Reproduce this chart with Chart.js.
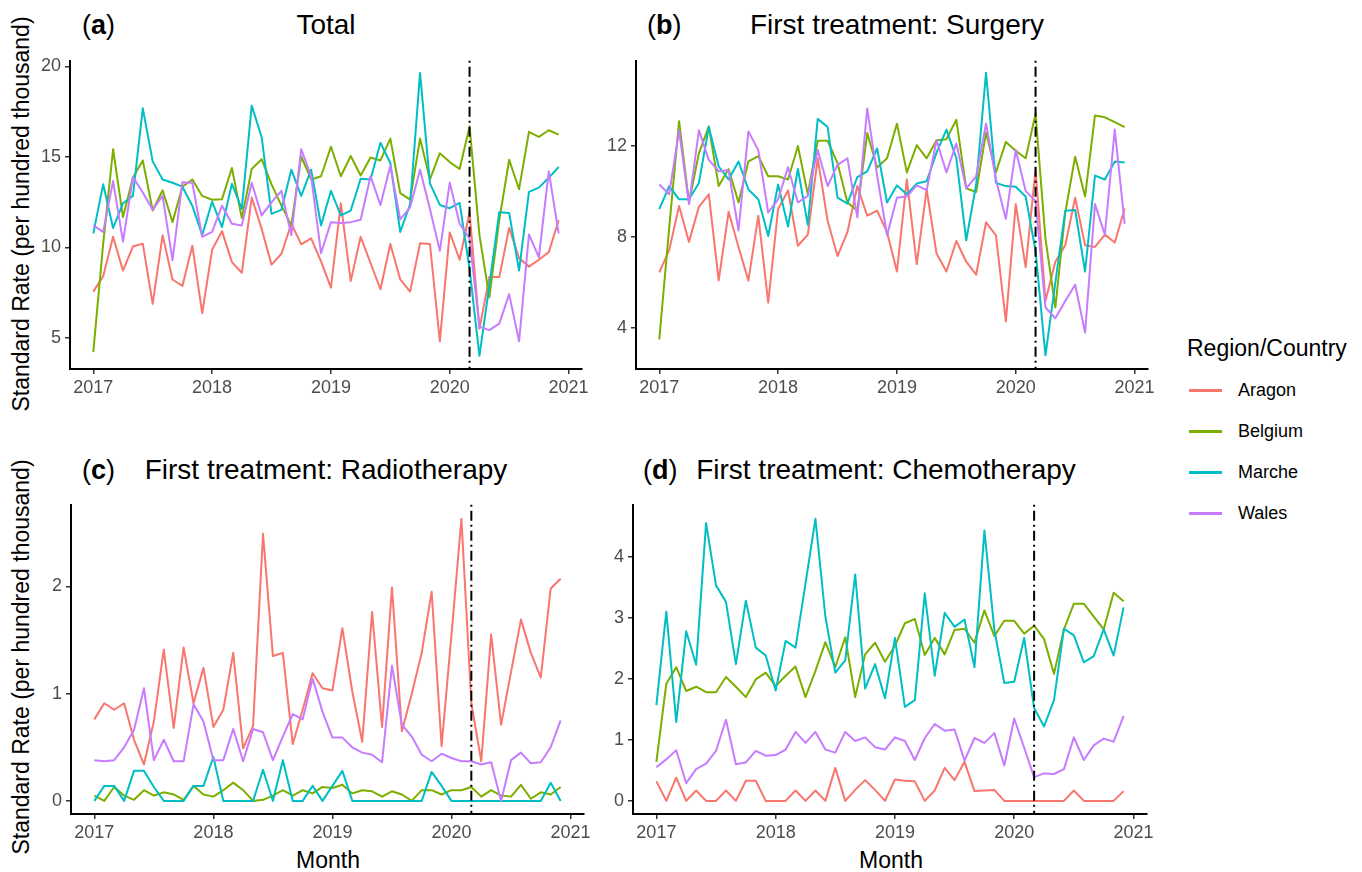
<!DOCTYPE html>
<html lang="en">
<head>
<meta charset="UTF-8">
<title>Standard rate by region/country</title>
<script src="https://cdn.jsdelivr.net/npm/chart.js"></script>
<style>
  body { margin: 0; background: #fff; font-family: 'Liberation Sans', Arial, sans-serif; color: #000; }
  #page { position: relative; width: 1362px; height: 872px; overflow: hidden; }
  canvas { position: absolute; }
  .tag { position: absolute; font-size: 27px; transform: translateY(-50%); white-space: nowrap; }
  .tag b { font-weight: bold; }
  .title { position: absolute; font-size: 28px; transform: translate(-50%, -50%); white-space: nowrap; }
  .ylab { position: absolute; font-size: 23px; transform: translate(-50%, -50%) rotate(-90deg); white-space: nowrap; }
  .xlab { position: absolute; font-size: 23px; transform: translate(-50%, -50%); white-space: nowrap; }
  .leg-title { position: absolute; left: 1187px; top: 348px; font-size: 23px; transform: translateY(-50%); white-space: nowrap; }
  .leg-item { position: absolute; left: 1189px; height: 0; }
  .leg-item span.sw { position: absolute; left: 0; top: -1.5px; width: 33px; height: 3px; }
  .leg-item span.tx { position: absolute; left: 49px; top: 0; font-size: 18px; transform: translateY(-50%); white-space: nowrap; }
</style>
</head>
<body>
<div id="page">
  <div class="tag" style="left:82px; top:25px">(<b>a</b>)</div>
  <div class="title" style="left:326px; top:25px">Total</div>
  <div class="tag" style="left:647px; top:25px">(<b>b</b>)</div>
  <div class="title" style="left:897px; top:25px">First treatment: Surgery</div>
  <div class="tag" style="left:82px; top:470px">(<b>c</b>)</div>
  <div class="title" style="left:326px; top:470px">First treatment: Radiotherapy</div>
  <div class="tag" style="left:643px; top:470px">(<b>d</b>)</div>
  <div class="title" style="left:886px; top:470px">First treatment: Chemotherapy</div>

  <div class="ylab" style="left:21px; top:214px">Standard Rate (per hundred thousand)</div>
  <div class="ylab" style="left:21px; top:657px">Standard Rate (per hundred thousand)</div>
  <div class="xlab" style="left:328px; top:860px">Month</div>
  <div class="xlab" style="left:891px; top:860px">Month</div>

  <canvas id="chartA" width="576" height="355" style="left:30px; top:46px"></canvas>
  <canvas id="chartB" width="576" height="355" style="left:596px; top:46px"></canvas>
  <canvas id="chartC" width="577" height="356" style="left:31px; top:490px"></canvas>
  <canvas id="chartD" width="578" height="356" style="left:593px; top:490px"></canvas>

  <div id="legend"></div>
</div>

<script>
  const months = [
    '2017-01','2017-02','2017-03','2017-04','2017-05','2017-06','2017-07','2017-08','2017-09','2017-10','2017-11','2017-12',
    '2018-01','2018-02','2018-03','2018-04','2018-05','2018-06','2018-07','2018-08','2018-09','2018-10','2018-11','2018-12',
    '2019-01','2019-02','2019-03','2019-04','2019-05','2019-06','2019-07','2019-08','2019-09','2019-10','2019-11','2019-12',
    '2020-01','2020-02','2020-03','2020-04','2020-05','2020-06','2020-07','2020-08','2020-09','2020-10','2020-11','2020-12'
  ];
  const yearTicks = [2017, 2018, 2019, 2020, 2021];
  const interventionMonth = '2020-03';

  const regions = ['Aragon', 'Belgium', 'Marche', 'Wales'];
  const regionColors = ['#F8766D', '#7CAE00', '#00BFC4', '#C77CFF'];

  // (a) Total
  const totalAragon = [7.55, 8.4, 10.58, 8.71, 10.04, 10.2, 6.87, 10.67, 8.22, 7.86, 10.09, 6.36,
    9.86, 10.89, 9.18, 8.59, 12.75, 11.03, 9.04, 9.64, 11.3, 10.16, 10.49, 9.22,
    7.77, 12.43, 8.13, 10.58, 9.13, 7.68, 10.18, 8.22, 7.55, 10.22, 10.18, 4.8,
    10.82, 9.31, 11.94, 5.5, 8.35, 8.35, 11.07, 9.4, 8.93, 9.31, 9.73, 11.49];
  const totalBelgium = [4.2, 10.2, 15.42, 11.67, 13.84, 14.8, 12.03, 13.15, 11.39, 13.35, 13.75, 12.84,
    12.63, 12.66, 14.38, 11.61, 14.33, 14.87, 13.48, 12.3, 11.21, 15.02, 13.75, 13.93,
    15.56, 13.93, 15.05, 13.97, 14.96, 14.8, 16.01, 12.99, 12.63, 16.01, 13.75, 15.2,
    14.71, 14.33, 16.68, 10.67, 7.23, 11.5, 14.84, 13.21, 16.38, 16.1, 16.47, 16.23];
  const totalMarche = [10.76, 13.48, 11.07, 12.43, 12.84, 17.68, 14.75, 13.75, 13.57, 13.35, 12.3, 10.67,
    12.52, 11.12, 13.51, 12.12, 17.83, 16.1, 11.85, 12.07, 14.29, 12.84, 14.29, 11.21,
    13.12, 11.76, 12.03, 13.79, 13.75, 15.78, 14.66, 10.85, 12.39, 19.64, 13.53, 12.34,
    12.16, 12.45, 8.8, 4.0, 7.9, 11.94, 11.9, 8.71, 13.06, 13.3, 13.84, 14.44];
  const totalWales = [11.21, 10.85, 13.66, 10.31, 13.88, 13.03, 12.08, 12.84, 9.28, 13.6, 13.57, 10.58,
    10.85, 12.3, 11.3, 11.21, 13.57, 11.76, 12.48, 13.12, 10.67, 15.42, 13.93, 9.67,
    11.39, 11.34, 11.39, 11.52, 13.93, 12.34, 14.51, 11.54, 12.21, 14.29, 12.12, 9.8,
    13.57, 11.3, 10.49, 5.6, 5.42, 5.78, 7.41, 4.8, 10.71, 9.44, 14.2, 10.76];

  // (b) First treatment: Surgery
  const surgeryAragon = [6.44, 7.42, 9.36, 7.78, 9.32, 9.87, 6.09, 9.1, 7.56, 6.08, 8.93, 5.11,
    9.22, 10.04, 7.61, 8.1, 11.45, 8.71, 7.16, 8.21, 10.23, 8.93, 9.15, 8.21,
    6.48, 10.52, 6.8, 10.08, 7.27, 6.48, 7.82, 6.91, 6.34, 8.64, 8.07, 4.28,
    9.44, 6.67, 10.95, 5.18, 6.91, 7.63, 9.72, 7.63, 7.56, 8.1, 7.75, 9.25];
  const surgeryBelgium = [3.5, 8.4, 13.08, 9.51, 11.67, 12.85, 10.23, 10.98, 9.51, 11.31, 11.55, 10.66,
    10.66, 10.52, 11.99, 9.87, 12.22, 12.22, 11.24, 9.51, 9.15, 12.56, 11.05, 11.45,
    12.97, 10.83, 12.03, 11.45, 12.24, 12.29, 13.14, 10.13, 9.97, 12.58, 10.83, 12.17,
    11.78, 11.45, 13.4, 7.92, 4.9, 9.07, 11.52, 9.77, 13.33, 13.25, 13.04, 12.82];
  const surgeryMarche = [9.22, 10.23, 9.65, 9.65, 10.37, 12.82, 11.09, 10.52, 11.31, 10.08, 9.65, 8.04,
    10.3, 8.46, 10.98, 8.53, 13.18, 12.82, 9.72, 9.46, 10.62, 10.88, 11.88, 9.51,
    10.26, 9.87, 10.34, 10.44, 11.7, 12.71, 11.45, 7.85, 10.3, 15.2, 10.37, 10.23,
    10.2, 9.77, 7.4, 2.8, 6.0, 9.15, 9.18, 6.48, 10.69, 10.52, 11.31, 11.27];
  const surgeryWales = [10.3, 9.87, 12.68, 9.44, 12.68, 11.38, 10.88, 10.92, 8.28, 12.63, 11.81, 9.07,
    9.65, 11.06, 9.51, 9.8, 11.81, 10.23, 11.16, 11.45, 8.86, 13.64, 10.7, 8.07,
    9.72, 9.77, 10.26, 10.05, 12.24, 10.83, 12.1, 10.13, 10.66, 12.97, 10.52, 8.79,
    11.81, 10.01, 9.58, 4.9, 4.43, 5.18, 5.9, 3.8, 9.44, 8.1, 12.71, 8.57];

  // (c) First treatment: Radiotherapy
  const radioAragon = [0.76, 0.91, 0.85, 0.91, 0.57, 0.34, 0.74, 1.41, 0.68, 1.43, 0.91, 1.24,
    0.69, 0.85, 1.38, 0.49, 0.7, 2.49, 1.35, 1.38, 0.53, 0.85, 1.19, 1.05,
    1.03, 1.61, 1.02, 0.55, 1.76, 0.69, 1.99, 0.65, 1.0, 1.38, 1.95, 0.51,
    1.55, 2.63, 0.91, 0.37, 1.55, 0.71, 1.2, 1.69, 1.38, 1.15, 1.98, 2.07];
  const radioBelgium = [0.05, 0, 0.13, 0.05, 0.01, 0.1, 0.05, 0.08, 0.06, 0.01, 0.14, 0.06,
    0.04, 0.1, 0.17, 0.1, 0, 0.01, 0.05, 0.1, 0.05, 0.1, 0.07, 0.13,
    0.12, 0.15, 0.07, 0.1, 0.09, 0.04, 0.09, 0.06, 0, 0.1, 0.1, 0.06,
    0.1, 0.1, 0.13, 0.04, 0.1, 0.05, 0.04, 0.15, 0.02, 0.08, 0.06, 0.13];
  const radioMarche = [0, 0.14, 0.14, 0, 0.28, 0.28, 0.13, 0, 0, 0, 0.14, 0.14,
    0.41, 0, 0, 0, 0, 0.29, 0, 0.38, 0, 0, 0.14, 0,
    0.14, 0.28, 0, 0, 0, 0, 0, 0, 0, 0, 0.27, 0.14,
    0, 0, 0, 0, 0, 0, 0, 0, 0, 0, 0.17, 0];
  const radioWales = [0.38, 0.37, 0.38, 0.5, 0.66, 1.05, 0.38, 0.57, 0.37, 0.37, 0.9, 0.74,
    0.38, 0.38, 0.67, 0.37, 0.67, 0.64, 0.38, 0.6, 0.81, 0.76, 1.14, 0.83,
    0.59, 0.59, 0.5, 0.45, 0.43, 0.36, 1.26, 0.71, 0.6, 0.43, 0.37, 0.44,
    0.4, 0.37, 0.37, 0.34, 0.36, 0, 0.38, 0.45, 0.35, 0.36, 0.5, 0.75];

  // (d) First treatment: Chemotherapy
  const chemoAragon = [0.32, 0, 0.38, 0, 0.17, 0, 0, 0.17, 0, 0.33, 0.33, 0,
    0, 0, 0.17, 0, 0.17, 0, 0.54, 0, 0.18, 0.34, 0.18, 0,
    0.35, 0.33, 0.32, 0, 0.17, 0.54, 0.34, 0.64, 0.16, 0.17, 0.18, 0,
    0, 0, 0, 0, 0, 0, 0.17, 0, 0, 0, 0, 0.16];
  const chemoBelgium = [0.64, 1.92, 2.19, 1.8, 1.87, 1.78, 1.78, 2.03, 1.87, 1.7, 1.99, 2.1,
    1.88, 2.05, 2.2, 1.7, 2.13, 2.6, 2.19, 2.68, 1.7, 2.4, 2.59, 2.28,
    2.54, 2.91, 2.98, 2.39, 2.67, 2.4, 2.8, 2.82, 2.59, 3.12, 2.7, 2.95,
    2.95, 2.74, 2.87, 2.65, 2.08, 2.81, 3.23, 3.23, 3.02, 2.81, 3.41, 3.27];
  const chemoMarche = [1.57, 3.1, 1.29, 2.78, 2.23, 4.55, 3.53, 3.26, 2.24, 3.28, 2.51, 2.38,
    1.81, 2.62, 2.51, 3.56, 4.62, 3.02, 2.1, 2.3, 3.71, 1.84, 2.24, 1.68,
    2.67, 1.54, 1.65, 3.4, 2.05, 3.08, 2.85, 2.97, 2.19, 4.43, 2.8, 1.93,
    1.95, 2.67, 1.52, 1.22, 1.65, 2.82, 2.71, 2.27, 2.37, 2.81, 2.38, 3.17];
  const chemoWales = [0.55, 0.68, 0.83, 0.29, 0.52, 0.61, 0.82, 1.33, 0.6, 0.63, 0.82, 0.74,
    0.75, 0.84, 1.13, 0.95, 1.13, 0.84, 0.79, 1.13, 0.98, 1.04, 0.88, 0.84,
    1.04, 0.98, 0.67, 1.03, 1.26, 1.15, 1.17, 0.66, 1.03, 0.95, 1.11, 0.58,
    1.35, 0.87, 0.39, 0.45, 0.44, 0.52, 1.04, 0.67, 0.91, 1.02, 0.97, 1.39];

  const totalTicks = [5, 10, 15, 20];
  const surgeryTicks = [4, 8, 12];
  const radioTicks = [0, 1, 2];
  const chemoTicks = [0, 1, 2, 3, 4];

  // month string -> decimal year
  function toYear(m) {
    const parts = m.split('-').map(Number);
    return parts[0] + (parts[1] - 1) / 12;
  }
  const monthX = months.map(toYear);
  const interventionX = toYear(interventionMonth);

  const FONT = "'Liberation Sans', Arial, sans-serif";

  const interventionLine = {
    id: 'interventionLine',
    afterDatasetsDraw(chart) {
      const x = chart.scales.x.getPixelForValue(interventionX);
      const area = chart.chartArea;
      const ctx = chart.ctx;
      ctx.save();
      ctx.strokeStyle = '#000';
      ctx.lineWidth = 2;
      ctx.setLineDash([2, 4, 10, 4]);
      ctx.beginPath();
      ctx.moveTo(x, area.top);
      ctx.lineTo(x, area.bottom);
      ctx.stroke();
      ctx.restore();
    }
  };

  function axisStyle() {
    return {
      grid: { drawOnChartArea: false, drawTicks: true, tickLength: 5, color: '#333', lineWidth: 1.5 },
      border: { display: true, color: '#000', width: 2 }
    };
  }

  function makePanel(id, series, yMin, yMax, yTicks) {
    const datasets = series.map((vals, k) => ({
      label: regions[k],
      data: vals.map((v, i) => ({ x: monthX[i], y: v })),
      borderColor: regionColors[k],
      backgroundColor: regionColors[k],
      borderWidth: 2,
      borderJoinStyle: 'round',
      pointRadius: 0,
      tension: 0,
      order: series.length - 1 - k
    }));

    return new Chart(document.getElementById(id), {
      type: 'line',
      data: { datasets: datasets },
      options: {
        responsive: false,
        animation: false,
        devicePixelRatio: 1,
        layout: { padding: { top: 10, right: 24, bottom: 0, left: 0 } },
        plugins: { legend: { display: false }, tooltip: { enabled: false } },
        scales: {
          x: Object.assign({
            type: 'linear',
            min: 2016.804,
            max: 2021.113,
            afterBuildTicks: s => { s.ticks = yearTicks.map(v => ({ value: v })); },
            afterFit: s => { s.height = 32; },
            ticks: {
              callback: v => String(v),
              color: '#4d4d4d',
              font: { family: FONT, size: 18 },
              padding: 3,
              maxRotation: 0,
              autoSkip: false
            }
          }, axisStyle()),
          y: Object.assign({
            type: 'linear',
            min: yMin,
            max: yMax,
            afterBuildTicks: s => { s.ticks = yTicks.map(v => ({ value: v })); },
            afterFit: s => { s.width = 40; },
            ticks: {
              callback: v => String(v),
              color: '#4d4d4d',
              font: { family: FONT, size: 18 },
              padding: 4
            }
          }, axisStyle())
        }
      },
      plugins: [interventionLine]
    });
  }

  makePanel('chartA', [totalAragon, totalBelgium, totalMarche, totalWales], 3.27, 20.31, totalTicks);
  makePanel('chartB', [surgeryAragon, surgeryBelgium, surgeryMarche, surgeryWales], 2.2, 15.73, surgeryTicks);
  makePanel('chartC', [radioAragon, radioBelgium, radioMarche, radioWales], -0.122, 2.76, radioTicks);
  makePanel('chartD', [chemoAragon, chemoBelgium, chemoMarche, chemoWales], -0.215, 4.85, chemoTicks);

  // legend
  const legend = document.getElementById('legend');
  const title = document.createElement('div');
  title.className = 'leg-title';
  title.textContent = 'Region/Country';
  legend.appendChild(title);
  const legendY = [390, 431, 472, 513];
  regions.forEach((r, k) => {
    const item = document.createElement('div');
    item.className = 'leg-item';
    item.style.top = legendY[k] + 'px';
    item.innerHTML = '<span class="sw" style="background:' + regionColors[k] + '"></span><span class="tx">' + r + '</span>';
    legend.appendChild(item);
  });
</script>
</body>
</html>
